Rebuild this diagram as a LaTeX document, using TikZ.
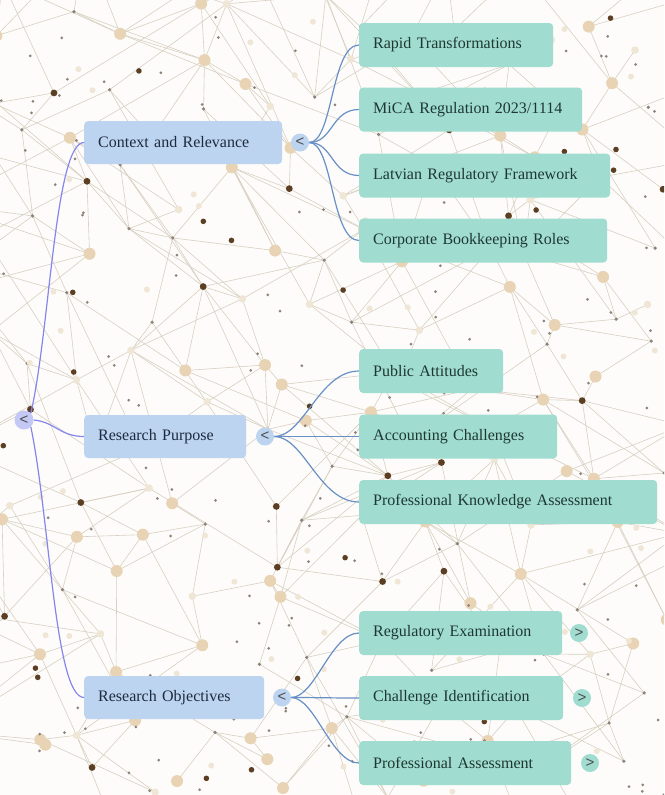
\documentclass[tikz,border=0pt]{standalone}
\usepackage{fontspec}
\setmainfont{Liberation Serif}
\newfontfamily\togglefont{Liberation Sans}
\definecolor{paper}{HTML}{FDFCFA}
\definecolor{webline}{HTML}{D8CFC1}
\definecolor{beige}{HTML}{E8D4B4}
\definecolor{paleb}{HTML}{EFE6D6}
\definecolor{brown}{HTML}{5C3E22}
\definecolor{greydot}{HTML}{8C8279}
\definecolor{topfill}{HTML}{BDD4F1}
\definecolor{topink}{HTML}{1D2B3E}
\definecolor{kidfill}{HTML}{A0DDD0}
\definecolor{kidink}{HTML}{1E3733}
\definecolor{rootfill}{HTML}{C4C8F4}
\definecolor{rootline}{HTML}{8585EE}
\definecolor{kidline}{HTML}{6890C6}
\tikzset{
  web/.style={draw=webline, line width=0.6pt},
  topbox/.style={draw=none, fill=topfill, rounded corners=4pt, anchor=west,
    minimum height=43pt, inner xsep=14pt, inner ysep=0pt, align=left,
    text=topink, font=\fontsize{16}{19}\selectfont},
  kidbox/.style={draw=none, fill=kidfill, rounded corners=4pt, anchor=west,
    minimum height=44pt, inner xsep=14pt, inner ysep=0pt, align=left,
    text=kidink, font=\fontsize{16}{19}\selectfont},
  toggle/.style={circle, minimum size=18pt, inner sep=0pt,
    font=\togglefont\fontsize{15}{15}\selectfont, text=black!70},
  rootlink/.style={draw=rootline, line width=1.2pt},
  kidlink/.style={draw=kidline, line width=1.2pt},
}
\newcommand\topitem[5]{\node[topbox, text width=#4pt-28pt] (#1) at (84,#2) {#5};
  \node[toggle, fill=topfill] (#1-t) at (#3,#2) {<};}
\newcommand\kiditem[4]{\node[kidbox, text width=#3pt-28pt] (#1) at (359,#2) {#4};}
\begin{document}
\begin{tikzpicture}[x=1pt, y=-1pt]
\useasboundingbox (0,0) rectangle (664,795);
\fill[paper] (0,0) rectangle (664,795);

% ---- background network ----
\pgfmathsetseed{9031}
\begin{scope}
\clip (0,0) rectangle (664,795);
\foreach \i in {0,...,13}{
  \foreach \j in {0,...,15}{
    \pgfmathsetmacro\px{\i*58 - 40 + rand*28}
    \pgfmathsetmacro\py{\j*58 - 40 + rand*28}
    \coordinate (g-\i-\j) at (\px,\py);
  }
}
\foreach \i in {0,...,11}{
  \foreach \j in {0,...,13}{
    \pgfmathtruncatemacro\ni{\i+1}
    \pgfmathtruncatemacro\nj{\j+1}
    \pgfmathtruncatemacro\nni{\i+2}
    \pgfmathtruncatemacro\nnj{\j+2}
    \pgfmathtruncatemacro\ra{rnd<0.6}
    \pgfmathtruncatemacro\rb{rnd<0.6}
    \pgfmathtruncatemacro\rc{rnd<0.4}
    \pgfmathtruncatemacro\rd{rnd<0.35}
    \pgfmathtruncatemacro\re{rnd<0.35}
    \pgfmathtruncatemacro\rf{rnd<0.35}
    \pgfmathtruncatemacro\rg{rnd<0.15}
    \ifnum\ra=1 \draw[web] (g-\i-\j) -- (g-\ni-\j); \fi
    \ifnum\rb=1 \draw[web] (g-\i-\j) -- (g-\i-\nj); \fi
    \ifnum\rc=1 \draw[web] (g-\i-\j) -- (g-\ni-\nj); \fi
    \ifnum\rd=1 \draw[web] (g-\ni-\j) -- (g-\i-\nj); \fi
    \ifnum\re=1 \draw[web] (g-\i-\j) -- (g-\nni-\nj); \fi
    \ifnum\rf=1 \draw[web] (g-\i-\j) -- (g-\ni-\nnj); \fi
    \ifnum\rg=1 \draw[web] (g-\nni-\j) -- (g-\i-\nj); \fi
  }
}
\foreach \i in {0,...,13}{
  \foreach \j in {0,...,15}{
    \pgfmathsetmacro\kind{rnd}
    \pgfmathtruncatemacro\big{\kind<0.35}
    \pgfmathtruncatemacro\dark{(\kind>=0.35)&&(\kind<0.55)}
    \pgfmathtruncatemacro\pale{(\kind>=0.55)&&(\kind<0.72)}
    \ifnum\big=1 \fill[beige] (g-\i-\j) circle (6pt); \fi
    \ifnum\dark=1 \fill[brown] (g-\i-\j) circle (3.4pt); \fi
    \ifnum\pale=1 \fill[paleb] (g-\i-\j) circle (3.8pt); \fi
    \ifnum\pale=0 \ifnum\big=0 \ifnum\dark=0 \fill[greydot] (g-\i-\j) circle (1.8pt); \fi\fi\fi
  }
}
\foreach \k in {1,...,150}{
  \pgfmathsetmacro\qx{332+rand*332}
  \pgfmathsetmacro\qy{398+rand*398}
  \fill[greydot] (\qx,\qy) circle (1.5pt);
}
\foreach \k in {1,...,60}{
  \pgfmathsetmacro\qx{332+rand*332}
  \pgfmathsetmacro\qy{398+rand*398}
  \fill[paleb] (\qx,\qy) circle (3pt);
}
\foreach \k in {1,...,25}{
  \pgfmathsetmacro\qx{332+rand*332}
  \pgfmathsetmacro\qy{398+rand*398}
  \fill[brown] (\qx,\qy) circle (2.8pt);
}
\end{scope}

% ---- mind map ----
\node[toggle, fill=rootfill, minimum size=19pt] (root) at (24,420) {<};

\topitem{ctx}{142.5}{300}{198}{Context and Relevance}
\topitem{pur}{436.5}{265}{162}{Research Purpose}
\topitem{obj}{697.5}{282}{180}{Research Objectives}

\kiditem{k1}{45}{194}{Rapid Transformations}
\kiditem{k2}{109.5}{223}{MiCA Regulation 2023/1114}
\kiditem{k3}{175.5}{251}{Latvian Regulatory Framework}
\kiditem{k4}{240.5}{248}{Corporate Bookkeeping Roles}
\kiditem{k5}{371}{144}{Public Attitudes}
\kiditem{k6}{436.5}{198}{Accounting Challenges}
\kiditem{k7}{502}{298}{Professional Knowledge Assessment}
\kiditem{k8}{633}{203}{Regulatory Examination}
\kiditem{k9}{698}{204}{Challenge Identification}
\kiditem{k10}{763}{212}{Professional Assessment}

\node[toggle, fill=kidfill] (k8-t) at (579,633) {>};
\node[toggle, fill=kidfill] (k9-t) at (582,698) {>};
\node[toggle, fill=kidfill] (k10-t) at (590,763) {>};

% root links
\draw[rootlink] (root.north east) .. controls (50,330) and (55,142.5) .. (ctx.west);
\draw[rootlink] (root.east) .. controls (55,422) and (60,436.5) .. (pur.west);
\draw[rootlink] (root.south east) .. controls (50,520) and (55,697.5) .. (obj.west);

% branch links
\foreach \k in {k1,k2,k3,k4}
  \draw[kidlink] (ctx-t.east) .. controls +(24,0) and +(-28,0) .. (\k.west);
\foreach \k in {k5,k6,k7}
  \draw[kidlink] (pur-t.east) .. controls +(30,0) and +(-40,0) .. (\k.west);
\foreach \k in {k8,k9,k10}
  \draw[kidlink] (obj-t.east) .. controls +(24,0) and +(-28,0) .. (\k.west);
\end{tikzpicture}
\end{document}
